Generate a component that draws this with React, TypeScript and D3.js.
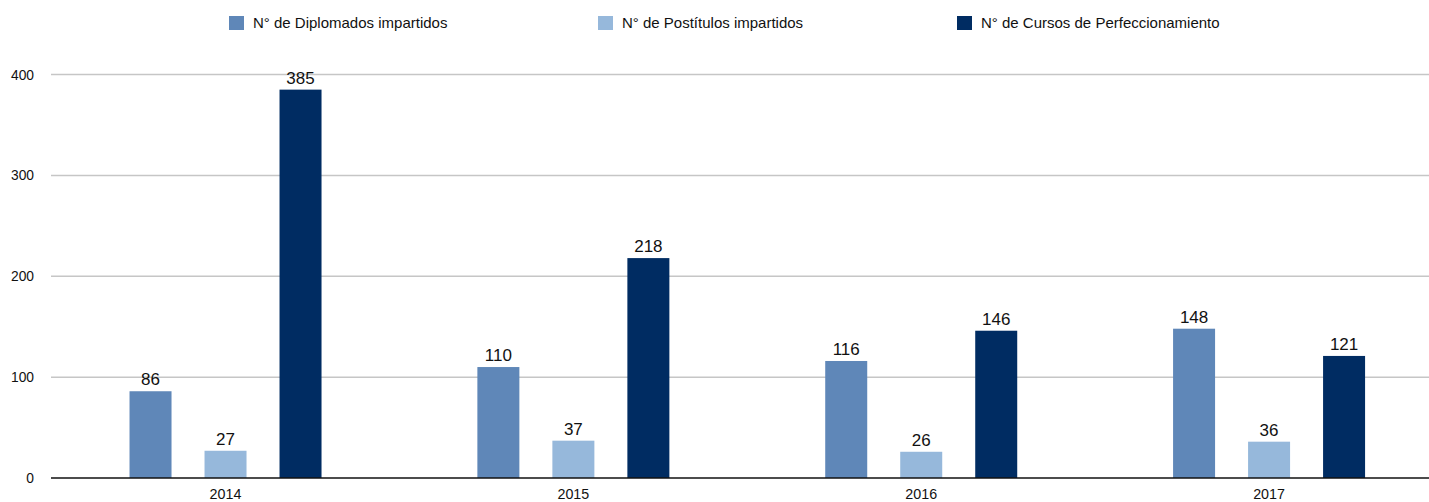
import React from "react";
import * as d3 from "d3";

const years = ["2014", "2015", "2016", "2017"];
const seriesNames = ["N° de Diplomados impartidos", "N° de Postítulos impartidos", "N° de Cursos de Perfeccionamiento"];
const diplomados = [86, 110, 116, 148];
const postitulos = [27, 37, 26, 36];
const cursos = [385, 218, 146, 121];
const yTicks = [0, 100, 200, 300, 400];
const colors = ["#5F87B8", "#96B8DB", "#002C62"];

export default function App() {
  const W = 1429, H = 502;
  const x = d3.scaleBand().domain(years).range([51.6, 1443]).padding(0);
  const y = d3.scaleLinear().domain([0, 400]).range([478, 74.5]);
  const series = [diplomados, postitulos, cursos];
  const barW = 42;
  const step = 75;
  const font = "'Liberation Sans', Arial, Helvetica, sans-serif";
  const legendX = [229, 598, 957];
  return (
    <svg width={W} height={H} style={{ position: "absolute", left: 0, top: 0 }} fontFamily={font}>
      {yTicks.map((t) => (
        <g key={t}>
          {t > 0 && <line x1={51} x2={W} y1={y(t)} y2={y(t)} stroke="#c6c6c6" strokeWidth={1.5} />}
          <text x={34} y={y(t) + 5} textAnchor="end" fontSize={13.8} fill="#111">{t}</text>
        </g>
      ))}
      {series.map((vals, si) =>
        vals.map((v, i) => {
          const cx = x(years[i])! + x.bandwidth() / 2 + (si - 1) * step;
          return (
            <g key={si + "-" + i}>
              <rect x={cx - barW / 2} y={y(v)} width={barW} height={y(0) - y(v)} fill={colors[si]} />
              <text x={cx} y={y(v) - 6} textAnchor="middle" fontSize={17} fill="#111">{v}</text>
            </g>
          );
        })
      )}
      <line x1={51} x2={W} y1={y(0)} y2={y(0)} stroke="#111" strokeWidth={1.5} />
      {years.map((yr) => (
        <text key={yr} x={x(yr)! + x.bandwidth() / 2} y={499} textAnchor="middle" fontSize={14.3} fill="#111">{yr}</text>
      ))}
      {seriesNames.map((n, i) => (
        <g key={n}>
          <rect x={legendX[i]} y={16} width={15} height={14} fill={colors[i]} />
          <text x={legendX[i] + 24} y={28.3} fontSize={15} fill="#111">{n}</text>
        </g>
      ))}
    </svg>
  );
}
